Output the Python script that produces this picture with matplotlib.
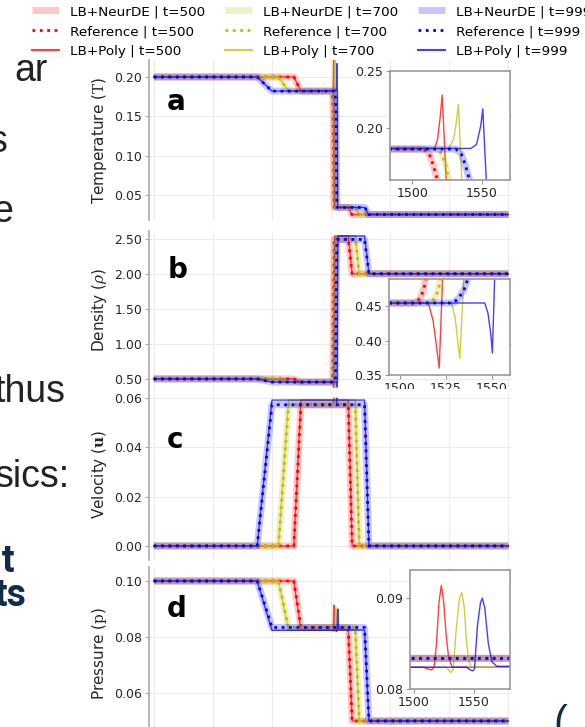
import matplotlib.pyplot as plt
from matplotlib.lines import Line2D

plt.rcParams['mathtext.fontset'] = 'dejavuserif'
plt.rcParams['font.family'] = ['DejaVu Sans']

W, H = 585, 727

times = [500, 700, 999]
colors = ['red', 'y', 'blue']

# breakpoints, one list per time step (t=500, 700, 999)
# temperature
temp_ref_x = [[0, 1185, 1245, 1508, 1512, 1515, 1518, 1524, 1527, 1648, 1675, 2999],
              [0, 1055, 1140, 1518, 1521, 1524, 1526, 1532, 1535, 1708, 1735, 2999],
              [0, 875, 1000, 1531, 1535, 1538, 1541, 1548, 1551, 1786, 1817, 2999]]
temp_ref_y = [[0.200, 0.200, 0.182, 0.182, 0.178, 0.168, 0.155, 0.045, 0.034, 0.034, 0.025, 0.025],
              [0.200, 0.200, 0.182, 0.182, 0.178, 0.168, 0.155, 0.045, 0.034, 0.034, 0.025, 0.025],
              [0.200, 0.200, 0.182, 0.182, 0.178, 0.168, 0.155, 0.045, 0.034, 0.034, 0.025, 0.025]]
temp_poly_x = [[0, 1185, 1245, 1516, 1518, 1520, 1521.4, 1524.3, 1527, 1648, 1675, 2999],
               [0, 1055, 1140, 1526, 1529.5, 1531.5, 1533, 1535.5, 1538, 1708, 1735, 2999],
               [0, 875, 1000, 1542, 1546, 1549, 1550.5, 1553, 1556, 1786, 1817, 2999]]
temp_poly_y = [[0.200, 0.200, 0.182, 0.1825, 0.190, 0.210, 0.229, 0.155, 0.034, 0.034, 0.025, 0.025],
               [0.200, 0.200, 0.182, 0.1825, 0.190, 0.205, 0.221, 0.155, 0.034, 0.034, 0.025, 0.025],
               [0.200, 0.200, 0.182, 0.1825, 0.186, 0.202, 0.217, 0.155, 0.034, 0.034, 0.025, 0.025]]

# density
dens_ref_x = [[0, 1185, 1245, 1508, 1511, 1513, 1514, 1520, 1526, 1645, 1678, 2999],
              [0, 1055, 1140, 1516, 1519, 1521, 1522, 1528, 1534, 1705, 1738, 2999],
              [0, 875, 1000, 1529, 1532, 1535, 1537, 1543, 1549, 1783, 1820, 2999]]
dens_ref_y = [[0.50, 0.50, 0.455, 0.455, 0.462, 0.475, 0.49, 1.5, 2.49, 2.49, 2.0, 2.0],
              [0.50, 0.50, 0.455, 0.455, 0.462, 0.475, 0.49, 1.5, 2.49, 2.49, 2.0, 2.0],
              [0.50, 0.50, 0.455, 0.455, 0.462, 0.475, 0.49, 1.5, 2.49, 2.49, 2.0, 2.0]]
dens_poly_x = [[0, 1185, 1245, 1515.4, 1518, 1520, 1521.4, 1523.2, 1527, 1530, 1645, 1678, 2999],
               [0, 1055, 1140, 1528.1, 1530, 1531.5, 1532.6, 1534.8, 1538, 1541, 1705, 1738, 2999],
               [0, 875, 1000, 1546.2, 1548, 1549.5, 1550.4, 1551.6, 1555, 1558, 1783, 1820, 2999]]
dens_poly_y = [[0.50, 0.50, 0.455, 0.455, 0.43, 0.39, 0.360, 0.49, 1.8, 2.54, 2.54, 2.0, 2.0],
               [0.50, 0.50, 0.455, 0.455, 0.435, 0.40, 0.374, 0.49, 1.8, 2.54, 2.54, 2.0, 2.0],
               [0.50, 0.50, 0.455, 0.455, 0.44, 0.41, 0.382, 0.49, 1.8, 2.54, 2.54, 2.0, 2.0]]

# velocity
vel_ref_x = [[0, 1185, 1245, 1645, 1678, 2999],
             [0, 1055, 1140, 1705, 1738, 2999],
             [0, 875, 1000, 1783, 1820, 2999]]
vel_ref_y = [[0, 0, 0.0573, 0.0573, 0, 0],
             [0, 0, 0.0573, 0.0573, 0, 0],
             [0, 0, 0.0573, 0.0573, 0, 0]]
vel_poly_x = [[0, 1185, 1245, 1516, 1520, 1524, 1528, 1645, 1678, 2999],
              [0, 1055, 1140, 1527, 1531, 1535, 1539, 1705, 1738, 2999],
              [0, 875, 1000, 1543, 1547, 1551, 1555, 1783, 1820, 2999]]
vel_poly_y = [[0, 0, 0.0592, 0.0592, 0.0583, 0.0600, 0.0592, 0.0592, 0, 0],
              [0, 0, 0.0592, 0.0592, 0.0583, 0.0600, 0.0592, 0.0592, 0, 0],
              [0, 0, 0.0592, 0.0592, 0.0583, 0.0600, 0.0592, 0.0592, 0, 0]]

# pressure
pres_ref_x = [[0, 1185, 1245, 1645, 1678, 2999],
              [0, 1055, 1140, 1705, 1738, 2999],
              [0, 875, 1000, 1783, 1820, 2999]]
pres_ref_y = [[0.100, 0.100, 0.0834, 0.0834, 0.050, 0.050],
              [0.100, 0.100, 0.0834, 0.0834, 0.050, 0.050],
              [0.100, 0.100, 0.0834, 0.0834, 0.050, 0.050]]
pres_poly_x = [[0, 1185, 1245, 1508, 1512, 1515, 1517, 1519, 1521, 1523, 1525, 1527, 1529, 1532, 1645, 1678, 2999],
               [0, 1055, 1140, 1527, 1529, 1531, 1533, 1535, 1538, 1540, 1542, 1544, 1546, 1548, 1705, 1738, 2999],
               [0, 875, 1000, 1544, 1547, 1549, 1550.5, 1553, 1555.5, 1557, 1559, 1562, 1565, 1569, 1783, 1820, 2999]]
pres_poly_y = [[0.100, 0.100, 0.0824, 0.0824, 0.0822, 0.0821, 0.0824, 0.0850, 0.0895, 0.0914, 0.0895, 0.0860, 0.0835, 0.0824, 0.0824, 0.050, 0.050],
               [0.100, 0.100, 0.0824, 0.0824, 0.0821, 0.0818, 0.0822, 0.0860, 0.0900, 0.0906, 0.0890, 0.0850, 0.0830, 0.0824, 0.0824, 0.050, 0.050],
               [0.100, 0.100, 0.0824, 0.0824, 0.0821, 0.0820, 0.0822, 0.0870, 0.0895, 0.0900, 0.0890, 0.0850, 0.0830, 0.0825, 0.0825, 0.050, 0.050]]


def box(l, r, t, b):
    return [l / W, 1 - b / H, (r - l) / W, (b - t) / H]


def draw(ax, rx, ry, px, py):
    for i in range(3):
        # LB+NeurDE sits on top of the reference
        ax.plot(rx[i], ry[i], color=colors[i], lw=5, alpha=0.22, solid_capstyle='butt')
        ax.plot(rx[i], ry[i], color=colors[i], lw=2, ls=':')
        ax.plot(px[i], py[i], color=colors[i], lw=1, alpha=0.75)


def main_axes(rect, ylim, yticks, label, letter, ly):
    ax = fig.add_axes(rect)
    ax.set_xlim(-40, 3030)
    ax.set_ylim(*ylim)
    ax.set_xticks(range(0, 3001, 500))
    ax.set_xticklabels([])
    ax.tick_params(axis='x', length=0)
    ax.set_yticks(yticks)
    ax.set_yticklabels([f'{v:.2f}' for v in yticks])
    ax.tick_params(axis='y', labelsize=9, length=3, color='#aaaaaa', labelcolor='#262626', pad=2)
    ax.grid(color='#ececec', lw=0.8)
    ax.set_axisbelow(True)
    for s in ['top', 'right', 'bottom']:
        ax.spines[s].set_visible(False)
    ax.spines['left'].set_color('#aaaaaa')
    ax.spines['left'].set_linewidth(1.2)
    ax.set_ylabel(label, fontsize=11, color='#262626')
    ax.yaxis.set_label_coords(-0.11, 0.5)
    ax.text(0.05, ly, letter, transform=ax.transAxes, fontsize=20, fontweight='bold', va='center')
    return ax


def inset(rect, xlim, ylim, xticks, yticks):
    ax = fig.add_axes(rect)
    ax.set_xlim(*xlim)
    ax.set_ylim(*ylim)
    ax.set_xticks(xticks)
    ax.set_yticks(yticks)
    ax.set_yticklabels([f'{v:.2f}' for v in yticks])
    ax.tick_params(labelsize=9, length=3, color='#999999', labelcolor='#262626', pad=2)
    for s in ax.spines.values():
        s.set_color('#999999')
        s.set_linewidth(1.2)
    return ax


fig = plt.figure(figsize=(W / 100, H / 100), dpi=100)

ax_a = main_axes(box(149, 512, 60, 220), (0.018, 0.2216), [0.05, 0.10, 0.15, 0.20],
                 r'Temperature ($\mathrm{T}$)', 'a', 0.74)
draw(ax_a, temp_ref_x, temp_ref_y, temp_poly_x, temp_poly_y)
in_a = inset(box(390, 510, 71, 180), (1484, 1570), (0.155, 0.25), [1500, 1550], [0.20, 0.25])
draw(in_a, temp_ref_x, temp_ref_y, temp_poly_x, temp_poly_y)

ax_b = main_axes(box(149, 512, 231, 388), (0.37, 2.61), [0.5, 1.0, 1.5, 2.0, 2.5],
                 r'Density ($\rho$)', 'b', 0.75)
draw(ax_b, dens_ref_x, dens_ref_y, dens_poly_x, dens_poly_y)
in_b = inset(box(389, 510, 279, 375), (1494, 1560), (0.35, 0.49), [1500, 1525, 1550], [0.35, 0.40, 0.45])
draw(in_b, dens_ref_x, dens_ref_y, dens_poly_x, dens_poly_y)

ax_c = main_axes(box(149, 512, 389, 560), (-0.0057, 0.0637), [0.0, 0.02, 0.04, 0.06],
                 r'Velocity ($\mathbf{u}$)', 'c', 0.70)
draw(ax_c, vel_ref_x, vel_ref_y, vel_poly_x, vel_poly_y)

ax_d = main_axes(box(149, 512, 567, 740), (0.0432, 0.105), [0.06, 0.08, 0.10],
                 r'Pressure ($\mathrm{p}$)', 'd', 0.76)
draw(ax_d, pres_ref_x, pres_ref_y, pres_poly_x, pres_poly_y)
in_d = inset(box(410, 510, 570, 689), (1497, 1580), (0.08, 0.0931), [1500, 1550], [0.08, 0.09])
draw(in_d, pres_ref_x, pres_ref_y, pres_poly_x, pres_poly_y)

# legend, column by column
handles, labels = [], []
for i, t in enumerate(times):
    handles.append(Line2D([], [], color=colors[i], lw=5, alpha=0.22, solid_capstyle='butt'))
    labels.append(f'LB+NeurDE | t={t}')
    handles.append(Line2D([], [], color=colors[i], lw=2, ls=':'))
    labels.append(f'Reference | t={t}')
    handles.append(Line2D([], [], color=colors[i], lw=1.5, alpha=0.75))
    labels.append(f'LB+Poly | t={t}')
fig.legend(handles, labels, ncol=3, loc='upper left', bbox_to_anchor=(32 / W, 1 - 5 / H),
           frameon=False, fontsize=9.7, handlelength=2.0, handletextpad=0.8,
           columnspacing=1.5, labelspacing=0.52, borderpad=0, borderaxespad=0)

# bits of the surrounding slide
slide = dict(ha='right', va='baseline', fontsize=27, family='Liberation Sans', color='#222222')
fig.text(48 / W, 1 - 81 / H, 'ar', **slide)
fig.text(8 / W, 1 - 152 / H, 's', **slide)
fig.text(13 / W, 1 - 222 / H, 'e', **slide)
fig.text(65 / W, 1 - 402 / H, 'thus', **slide)
fig.text(70 / W, 1 - 487 / H, 'sics:', **slide)
bold = dict(ha='right', va='baseline', fontsize=27, family='Roboto', fontweight='bold', color='#0f2d4a')
fig.text(15 / W, 1 - 572 / H, 't', **bold)
fig.text(27 / W, 1 - 606 / H, 'ts', **bold)
fig.text(553 / W, 1 - 735 / H, '(', ha='left', va='baseline', fontsize=30,
         family='Liberation Sans', color='#0f2d4a')

fig.savefig('out.png', dpi=100)
